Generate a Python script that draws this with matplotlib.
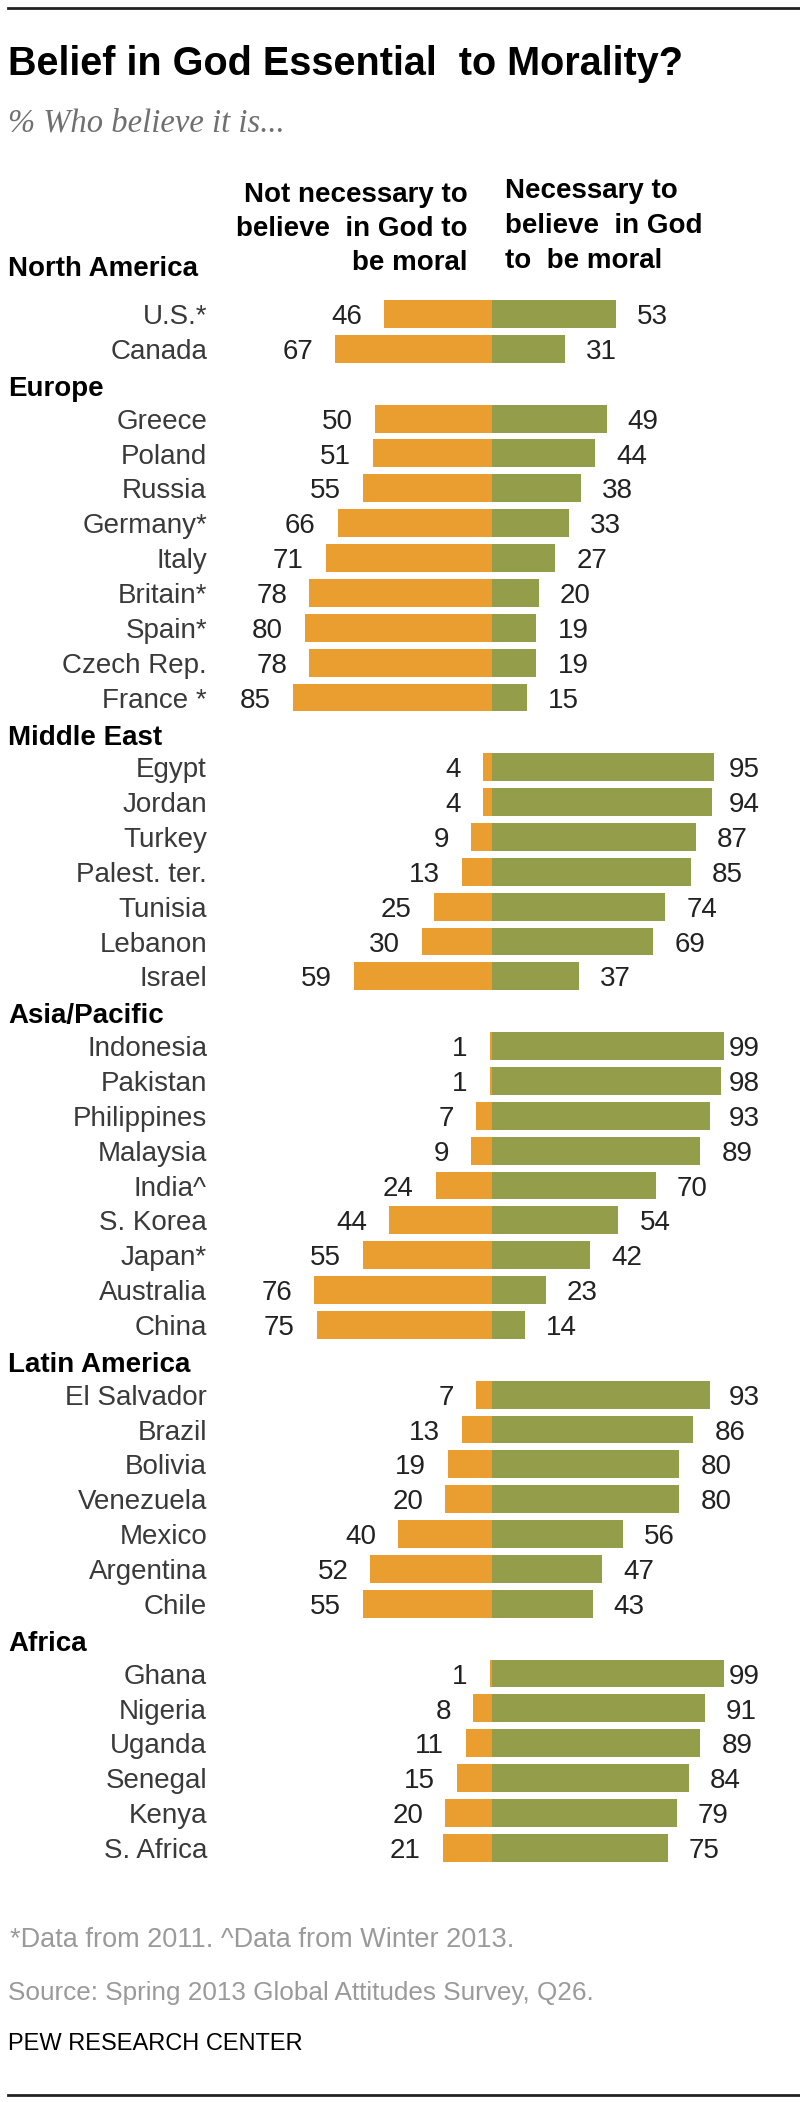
import matplotlib
matplotlib.use("Agg")
import matplotlib.pyplot as plt

# ---- data -------------------------------------------------------------
regions = ["North America", "Europe", "Middle East", "Asia/Pacific",
           "Latin America", "Africa"]
region_counts = [2, 9, 7, 9, 7, 6]

countries = [
    "U.S.*", "Canada",
    "Greece", "Poland", "Russia", "Germany*", "Italy", "Britain*", "Spain*",
    "Czech Rep.", "France *",
    "Egypt", "Jordan", "Turkey", "Palest. ter.", "Tunisia", "Lebanon", "Israel",
    "Indonesia", "Pakistan", "Philippines", "Malaysia", "India^", "S. Korea",
    "Japan*", "Australia", "China",
    "El Salvador", "Brazil", "Bolivia", "Venezuela", "Mexico", "Argentina", "Chile",
    "Ghana", "Nigeria", "Uganda", "Senegal", "Kenya", "S. Africa",
]
not_necessary = [
    46, 67,
    50, 51, 55, 66, 71, 78, 80, 78, 85,
    4, 4, 9, 13, 25, 30, 59,
    1, 1, 7, 9, 24, 44, 55, 76, 75,
    7, 13, 19, 20, 40, 52, 55,
    1, 8, 11, 15, 20, 21,
]
necessary = [
    53, 31,
    49, 44, 38, 33, 27, 20, 19, 19, 15,
    95, 94, 87, 85, 74, 69, 37,
    99, 98, 93, 89, 70, 54, 42, 23, 14,
    93, 86, 80, 80, 56, 47, 43,
    99, 91, 89, 84, 79, 75,
]

title = "Belief in God Essential  to Morality?"
subtitle = "% Who believe it is..."
head_left = "Not necessary to\nbelieve  in God to\nbe moral"
head_right = "Necessary to\nbelieve  in God\nto  be moral"
note = "*Data from 2011. ^Data from Winter 2013."
source = "Source: Spring 2013 Global Attitudes Survey, Q26."
credit = "PEW RESEARCH CENTER"

ORANGE = "#EA9E2F"
GREEN = "#949D4A"

plt.rcParams["font.family"] = ["Liberation Sans", "DejaVu Sans"]

W, H = 800, 2102
fig = plt.figure(figsize=(W / 100, H / 100), dpi=100)

# axes spanning the whole figure; x in percentage points, y in row slots
CX, PXU = 492, 2.34          # centre line (px) and px per percentage point
Y0, ROW = 314, 34.86         # first row centre (px) and row pitch (px)
ax = fig.add_axes([0, 0, 1, 1])
ax.set_xlim(-CX / PXU, (W - CX) / PXU)
ax.set_ylim((H - Y0) / ROW, -Y0 / ROW)
ax.axis("off")


def px_x(px):
    return (px - CX) / PXU


def fy(px):
    return 1 - px / H


# row slots: each region header takes one slot
y_rows, y_heads = [], []
slot = 0
for i, n in enumerate(region_counts):
    if i == 0:
        y_heads.append(-1.09)
    else:
        y_heads.append(slot + 0.35)
        slot += 1
    y_rows.extend(range(slot, slot + n))
    slot += n

ax.barh(y_rows, [-v for v in not_necessary], height=0.8, color=ORANGE)
ax.barh(y_rows, necessary, height=0.8, color=GREEN)

for y, name, a, b in zip(y_rows, countries, not_necessary, necessary):
    ax.text(px_x(207), y + 0.29, name, ha="right", va="baseline",
            fontsize=20, color="#3a3a3a")
    ax.text(-a - 9.4, y + 0.29, str(a), ha="right", va="baseline",
            fontsize=20, color="#222222")
    ax.text(min(b + 9, 101.3), y + 0.29, str(b), ha="left", va="baseline",
            fontsize=20, color="#222222")

for y, name in zip(y_heads, regions):
    ax.text(px_x(8), y, name, ha="left", va="baseline", fontsize=20,
            fontweight="bold", color="black")

# column headings
for k, line in enumerate(head_left.split("\n")):
    fig.text(468 / W, fy(202 + 34 * k), line, ha="right", va="baseline",
             fontsize=20, fontweight="bold", color="black")
for k, line in enumerate(head_right.split("\n")):
    fig.text(505 / W, fy(198 + 35 * k), line, ha="left", va="baseline",
             fontsize=20, fontweight="bold", color="black")

# title block
fig.text(8 / W, fy(75), title, ha="left", va="baseline", fontsize=28.5,
         fontweight="bold", color="black")
fig.text(8 / W, fy(132), subtitle, ha="left", va="baseline", fontsize=23.5,
         style="italic", family="Liberation Serif", color="#707070")

# footer
fig.text(10 / W, fy(1947), note, ha="left", va="baseline", fontsize=19.5,
         color="#9a9a9a")
fig.text(8 / W, fy(2000), source, ha="left", va="baseline", fontsize=18.8,
         color="#9a9a9a")
fig.text(8 / W, fy(2050), credit, ha="left", va="baseline", fontsize=17,
         color="black")

# rules top and bottom
fig.add_artist(plt.Line2D([8 / W, 1], [fy(8), fy(8)], color="#222222",
                          linewidth=2))
fig.add_artist(plt.Line2D([8 / W, 1], [fy(2095), fy(2095)], color="#222222",
                          linewidth=2))

fig.savefig("out.png", dpi=100)
